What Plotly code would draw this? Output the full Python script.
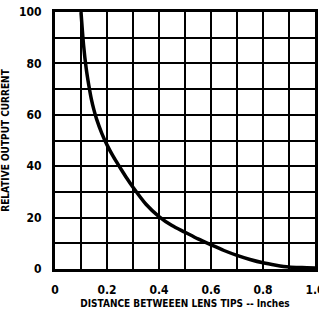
import plotly.graph_objects as go

# Data
distance = [0.10, 0.11, 0.12, 0.13, 0.14, 0.15, 0.16, 0.18, 0.20, 0.225, 0.25, 0.275, 0.30,
            0.35, 0.40, 0.45, 0.50, 0.55, 0.60, 0.65, 0.70, 0.75, 0.80, 0.85, 0.90, 0.95, 1.00]
current = [100, 87, 78, 71.5, 66, 61.8, 58.3, 52.8, 48.3, 43.6, 39.5, 35.5, 31.8,
           25.2, 20.4, 16.9, 14.3, 11.7, 9.4, 7.2, 5.3, 3.7, 2.4, 1.5, 0.8, 0.55, 0.4]

x_tickvals = [0, 0.1, 0.2, 0.3, 0.4, 0.5, 0.6, 0.7, 0.8, 0.9, 1.0]
x_ticktext = ["0", "", "0.2", "", "0.4", "", "0.6", "", "0.8", "", "1.0"]
y_tickvals = [0, 10, 20, 30, 40, 50, 60, 70, 80, 90, 100]
y_ticktext = ["0", "", "20", "", "40", "", "60", "", "80", "", "100"]

FONT = "Liberation Sans Narrow, DejaVu Sans Condensed, Arial Narrow, sans-serif"

fig = go.Figure()
fig.add_trace(go.Scatter(x=distance, y=current, mode="lines",
                         line=dict(color="black", width=3.5, shape="spline", smoothing=0.8),
                         showlegend=False, hoverinfo="skip"))

fig.update_layout(
    width=319, height=315,
    margin=dict(l=55, r=4, t=12, b=46),
    paper_bgcolor="white", plot_bgcolor="white",
    font=dict(family=FONT, color="black", size=12),
)
fig.update_xaxes(
    range=[0, 1.0], tickvals=x_tickvals, ticktext=x_ticktext,
    showgrid=True, gridcolor="black", gridwidth=2,
    showline=True, linecolor="black", linewidth=3, mirror=True,
    zeroline=False, ticks="", ticklabelstandoff=8, automargin=False,
    ticklabeloverflow="allow",
    tickfont=dict(family=FONT, size=12, weight="bold"),
    title=dict(text="DISTANCE BETWEEEN LENS TIPS -- Inches",
               font=dict(family=FONT, size=10, weight="bold"), standoff=4),
)
fig.update_yaxes(
    range=[0, 100], tickvals=y_tickvals, ticktext=y_ticktext,
    showgrid=True, gridcolor="black", gridwidth=2,
    showline=True, linecolor="black", linewidth=3, mirror=True,
    zeroline=False, ticks="", ticklabelstandoff=8, automargin=False,
    tickfont=dict(family=FONT, size=12, weight="bold"),
    title=dict(text="RELATIVE OUTPUT CURRENT",
               font=dict(family=FONT, size=10, weight="bold"), standoff=8),
)

fig.write_html("out.html", config={"displayModeBar": False},
               post_script="document.body.style.margin='0';document.body.style.overflow='hidden';")
